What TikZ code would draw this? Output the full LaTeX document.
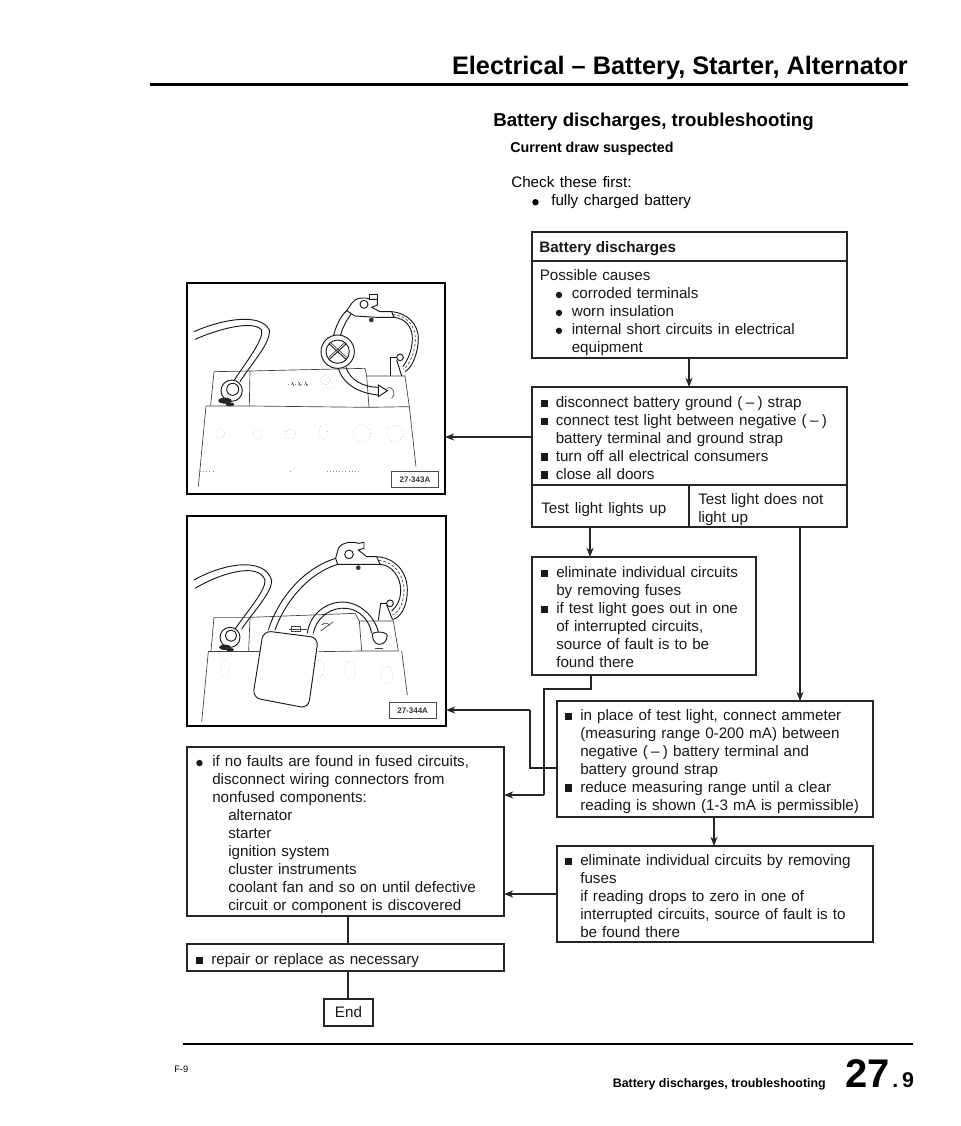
\documentclass[tikz,border=0pt]{standalone}
\usepackage{fontspec}
\setmainfont{Liberation Sans}
\usetikzlibrary{arrows.meta}
\newcommand{\sqb}{\rule[0.7pt]{5.4pt}{5.4pt}}
\newcommand{\rnd}{\raisebox{0.9pt}{\tikz[baseline=0pt]\fill (2.4pt,1.9pt) circle (2.4pt);}}
\newcommand{\sqi}[1]{\hangindent=11.25pt\hangafter=1\noindent\makebox[11.25pt][l]{\sqb}#1\par}
\newcommand{\rni}[2][12pt]{\leftskip=#1\hangindent=12pt\hangafter=1\noindent\makebox[12pt][l]{\rnd}#2\par}
\newcommand{\minusb}{(\hspace{2.5pt}–\hspace{2.5pt})}
\newcommand{\bodyfont}{\fontsize{11.4}{13.45}\selectfont\spaceskip=.37em}
\tikzset{
  x=0.75pt,y=-0.75pt,
  boxn/.style={draw=black!85,line width=0.8pt,anchor=north west,inner sep=0pt,outer sep=0pt},
  bodyt/.style={anchor=north west,inner sep=0pt,align=left,font=\bodyfont,text=black!90},
  arr/.style={line width=0.8pt,draw=black!85,-{Stealth[length=7pt,width=5.4pt]}},
  conn/.style={line width=0.8pt,draw=black!85},
  frameb/.style={draw=black,line width=1.5pt,anchor=north west,inner sep=0pt,outer sep=0pt},
  art/.style={line width=0.5pt,draw=black!75},
  artb/.style={line width=0.7pt,draw=black!90},
  faint/.style={line width=0.35pt,draw=black!45,dotted},
  tagn/.style={draw=black!70,line width=0.5pt,inner sep=0pt,anchor=north west,font=\fontsize{6}{7}\bfseries\selectfont,text=black!80},
  zoomed/.style={x=0.25pt,y=-0.25pt}
}
\begin{document}
\begin{tikzpicture}
\useasboundingbox (0,0) rectangle (960,1126);
\fill[white] (0,0) rectangle (960,1126);

% Header
\node[anchor=base east,inner sep=0pt,font=\fontsize{19}{21}\bfseries\selectfont] (hdr) at (908,75) {Electrical – Battery, Starter, Alternator};
\draw[line width=1.9pt] (150,84.5) -- (908,84.5);
\node[anchor=base west,inner sep=0pt,font=\fontsize{14}{16}\bfseries\selectfont] (ttl) at (493,127) {Battery discharges, troubleshooting};
\node[anchor=base west,inner sep=0pt,font=\fontsize{10.7}{12}\bfseries\selectfont] (sub) at (510,153) {Current draw suspected};
\node[anchor=base west,inner sep=0pt,font=\bodyfont] (chk) at (511,188) {Check these first:};
\node[anchor=base west,inner sep=0pt,font=\bodyfont] (chk2) at (532,206) {\makebox[14.25pt][l]{\rnd}fully charged battery};

% Column helper coordinates
\coordinate (xa) at (689,0);
\coordinate (xb) at (590,0);
\coordinate (xc) at (800,0);
\coordinate (xd) at (714,0);
\coordinate (xe) at (348,0);
\coordinate (ya) at (0,437);
\coordinate (yb) at (0,710);
\coordinate (yc) at (0,795);
\coordinate (yd) at (0,768);
\coordinate (ye) at (0,894);
\coordinate (j1) at (591,689);
\coordinate (j2) at (544,689);
\coordinate (j3) at (544,795);
\coordinate (j4) at (530,768);
\coordinate (j5) at (530,710);

% Box 1
\node[boxn,minimum width=236.25pt,minimum height=21.75pt] (b1h) at (532,232) {};
\node[boxn,minimum width=236.25pt,minimum height=72.75pt] (b1) at (532,261) {};
\node[bodyt,font=\fontsize{11.4}{13}\bfseries\selectfont] (b1ht) at (539,241) {Battery discharges};
\node[bodyt,text width=228pt] (b1t) at (539.5,269.5) {Possible causes\par
\rni{corroded terminals}
\rni{worn insulation}
\rni{internal short circuits in electrical\newline equipment}};

% Box 2
\node[boxn,minimum width=236.25pt,minimum height=73.5pt] (b2) at (532,387) {};
\node[bodyt,text width=228pt] (b2t) at (540.5,396.5) {\sqi{disconnect battery ground \minusb\ strap}
\sqi{connect test light between negative \minusb\newline battery terminal and ground strap}
\sqi{turn off all electrical consumers}
\sqi{close all doors}};
\node[boxn,minimum width=117.75pt,minimum height=31.5pt] (tu) at (532,485) {};
\node[boxn,minimum width=118.5pt,minimum height=31.5pt] (tn) at (689,485) {};
\node[bodyt] (tut) at (541,502.5) {Test light lights up};
\node[bodyt,text width=112pt] (tnt) at (698,493.5) {Test light does not\newline light up};

% Box 3
\node[boxn,minimum width=168pt,minimum height=88.5pt] (b3) at (532,557) {};
\node[bodyt,text width=160pt] (b3t) at (541,566.5) {\sqi{eliminate individual circuits\newline by removing fuses}
\sqi{if test light goes out in one\newline of interrupted circuits,\newline source of fault is to be\newline found there}};

% Box 4
\node[boxn,minimum width=237pt,minimum height=87pt] (b4) at (557,701) {};
\node[bodyt,text width=232pt] (b4t) at (565,709.5) {\sqi{in place of test light, connect ammeter\newline (measuring range 0-200 mA) between\newline negative \minusb\ battery terminal and\newline battery ground strap}
\sqi{reduce measuring range until a clear\newline reading is shown (1-3 mA is permissible)}};

% Box 5
\node[boxn,minimum width=237pt,minimum height=72pt] (b5) at (557,846) {};
\node[bodyt,text width=232pt] (b5t) at (565,854.5) {\sqi{eliminate individual circuits by removing\newline fuses\newline if reading drops to zero in one of\newline interrupted circuits, source of fault is to\newline be found there}};

% Box 6
\node[boxn,minimum width=237.75pt,minimum height=126.75pt] (b6) at (187,747) {};
\node[bodyt,text width=232pt] (b6t) at (196,755.5) {\rni[0pt]{if no faults are found in fused circuits,\newline disconnect wiring connectors from\newline nonfused components:\newline \hspace*{12pt}alternator\newline \hspace*{12pt}starter\newline \hspace*{12pt}ignition system\newline \hspace*{12pt}cluster instruments\newline \hspace*{12pt}coolant fan and so on until defective\newline \hspace*{12pt}circuit or component is discovered}};

% Box 7, End
\node[boxn,minimum width=237.75pt,minimum height=20.25pt] (b7) at (187,944) {};
\node[bodyt,text width=232pt] (b7t) at (196,953.5) {\sqi{repair or replace as necessary}};
\node[boxn,minimum width=36.75pt,minimum height=20.25pt] (endb) at (324,999) {};
\node[bodyt,anchor=center] (endt) at (endb.center) {End};

% Picture frames
\node[frameb,minimum width=193.5pt,minimum height=157.5pt] (p1) at (187,283.5) {};
\node[frameb,minimum width=194.25pt,minimum height=157.5pt] (p2) at (187,515.5) {};

% Connectors
\draw[arr] (b1.south -| xa) -- (b2.north -| xa);
\draw[arr] (tu.south -| xb) -- (b3.north -| xb);
\draw[arr] (tn.south -| xc) -- (b4.north -| xc);
\draw[arr] (b4.south -| xd) -- (b5.north -| xd);
\draw[arr] (b2.west |- ya) -- (p1.east |- ya);
\draw[conn] (b3.south -| j1) -- (j1) -- (j2) -- (j3);
\draw[arr] (j3) -- (b6.east |- j3);
\draw[conn] (b4.west |- j4) -- (j4) -- (j5);
\draw[arr] (j5) -- (p2.east |- j5);
\draw[arr] (b5.west |- ye) -- (b6.east |- ye);
\draw[conn] (b6.south -| xe) -- (b7.north -| xe);
\draw[conn] (b7.south -| xe) -- (endb.north -| xe);

% Illustration 1
\begin{scope}[shift={(170,270)},zoomed]
\draw[artb] (72,185) .. controls (150,150) and (270,125) .. (298,180) .. controls (302,220) and (245,280) .. (210,335);
\draw[artb] (75,208) .. controls (150,175) and (250,150) .. (275,180) .. controls (282,210) and (225,280) .. (190,335);
\draw[art] (132,305) -- (240,303) -- (585,295) -- (590,318) -- (705,318) -- (718,410);
\draw[art] (132,305) -- (122,405);
\draw[art] (240,303) -- (238,408);
\draw[art] (108,408) -- (238,408) -- (595,412) -- (718,410);
\draw[art] (590,318) -- (597,412);
\draw[art] (108,408) -- (85,650);
\draw[art] (718,410) -- (738,590);
% left clamp
\draw[artb,fill=white] (185,362) circle (32);
\draw[artb,fill=white] (188,358) circle (18);
\fill[black!85] (165,392) ellipse (20 and 9);
\fill[black!85] (180,403) ellipse (13 and 6);
% lamp and leads
\draw[artb] (490,200) .. controls (497,170) and (510,140) .. (530,122);
\draw[artb] (510,205) .. controls (515,175) and (530,150) .. (545,130);
\draw[artb] (505,295) .. controls (520,345) and (570,370) .. (625,375);
\draw[artb] (528,292) .. controls (540,330) and (580,352) .. (625,352);
\draw[artb] (625,345) -- (652,362) -- (625,380) -- cycle;
\draw[art] (650,355) .. controls (670,345) and (680,375) .. (665,385);
\draw[artb,fill=white] (503,245) ellipse (50 and 50);
\draw[artb] (503,245) ellipse (35 and 35);
\draw[artb] (478,222) -- (528,268);
\draw[artb] (478,268) -- (528,222);
\draw[art] (483,219) -- (530,262);
\draw[art] (476,262) -- (523,219);
% right clamp and strap
\draw[artb,fill=white] (530,122) -- (545,100) .. controls (555,82) and (585,80) .. (600,88) -- (622,88) -- (622,105) -- (605,112) -- (630,125) -- (665,125) -- (672,142) -- (620,142) -- (555,138) -- cycle;
\draw[artb,fill=white] (582,103) circle (12);
\draw[artb] (597,72) rectangle (622,88);
\fill[black!80] (604,150) circle (7);
\draw[artb] (665,125) .. controls (715,130) and (745,165) .. (745,205) .. controls (745,250) and (725,295) .. (705,305);
\draw[artb] (672,142) .. controls (705,145) and (727,170) .. (727,205) .. controls (727,245) and (710,275) .. (698,290);
\draw[art,dash pattern=on 2pt off 1.5pt] (668,133) .. controls (712,138) and (736,168) .. (736,205) .. controls (736,248) and (718,285) .. (700,298);
\draw[artb] (660,317) -- (660,262) -- (678,262);
\draw[artb] (695,318) -- (680,270);
\draw[artb,fill=white] (690,262) circle (10);
% emboss
\draw[faint] (355,342) -- (420,342);
\draw[art] (365,335) -- (372,348) (385,335) -- (392,348) (405,335) -- (412,348);
\draw[faint] (465,330) circle (14) (480,345) circle (12);
\draw[faint] (150,490) circle (14) (262,495) circle (14) (362,492) circle (16) (460,485) ellipse (12 and 24) (575,490) circle (26) (675,490) circle (24);
\draw[faint] (90,605) -- (130,605) (470,605) -- (565,605) (360,605) -- (368,605);
\draw[faint] (255,308) circle (6) (570,315) circle (6) (248,400) circle (6) (580,405) circle (6);
\node[tagn,minimum width=35.5pt,minimum height=12.5pt] (tag1) at (663,602) {27-343A};
\end{scope}

% Illustration 2
\begin{scope}[shift={(170,505)},zoomed]
\draw[artb] (72,225) .. controls (150,180) and (280,150) .. (305,225) .. controls (308,260) and (250,320) .. (215,372);
\draw[artb] (75,250) .. controls (150,205) and (265,170) .. (285,225) .. controls (288,255) and (235,315) .. (195,372);
\draw[art] (132,337) -- (240,337) -- (555,325) -- (568,348) -- (670,348) -- (685,438);
\draw[art] (132,337) -- (123,438);
\draw[art] (240,337) -- (236,438);
\draw[art] (115,440) -- (270,440);
\draw[art] (445,440) -- (575,438) -- (685,438);
\draw[art] (568,348) -- (575,438);
\draw[art] (115,440) -- (95,650);
\draw[art] (695,438) -- (712,570);
% left clamp
\draw[artb,fill=white] (180,397) circle (30);
\draw[artb,fill=white] (183,392) circle (17);
\fill[black!85] (165,427) ellipse (18 and 8);
\fill[black!85] (180,434) ellipse (12 and 5);
% leads
\draw[artb] (295,375) .. controls (325,280) and (400,190) .. (497,160);
\draw[artb] (315,375) .. controls (345,290) and (415,205) .. (503,178);
\draw[artb] (412,385) .. controls (420,320) and (480,285) .. (530,292) .. controls (580,300) and (615,340) .. (625,380);
\draw[artb] (430,385) .. controls (440,335) and (485,305) .. (530,310) .. controls (570,315) and (598,345) .. (605,385);
\draw[artb,fill=white] (607,390) .. controls (605,378) and (650,378) .. (652,392) .. controls (650,410) and (640,418) .. (628,418) .. controls (615,418) and (608,405) .. (607,390) -- cycle;
\draw[art] (615,430) -- (638,430);
% clamp and strap
\draw[artb,fill=white] (497,160) -- (505,130) .. controls (515,112) and (545,108) .. (565,115) -- (582,112) -- (582,130) -- (565,135) -- (590,155) -- (620,155) -- (630,178) -- (575,178) -- (503,178) -- cycle;
\draw[artb,fill=white] (537,148) circle (13);
\fill[black!80] (565,188) circle (7);
\draw[artb] (622,155) .. controls (680,160) and (712,205) .. (712,255) .. controls (712,300) and (695,335) .. (670,343);
\draw[artb] (630,178) .. controls (665,180) and (692,215) .. (692,255) .. controls (692,285) and (680,305) .. (665,318);
\draw[art,dash pattern=on 2pt off 1.5pt] (626,166) .. controls (672,170) and (702,210) .. (702,255) .. controls (702,292) and (688,320) .. (668,330);
\draw[artb] (625,346) -- (632,295) -- (650,295);
\draw[artb] (668,345) -- (650,300);
\draw[artb,fill=white] (660,295) circle (10);
% meter body
\draw[artb,fill=white,rounded corners=6pt] (280,377) -- (445,398) -- (415,610) -- (248,578) -- cycle;
% emboss
\draw[art] (358,372) -- (410,372);
\draw[art] (365,365) rectangle (390,378);
\draw[art] (452,378) -- (490,350) (455,360) .. controls (465,350) and (470,355) .. (480,360);
\draw[faint] (165,490) ellipse (12 and 28) (445,490) ellipse (18 and 26) (540,495) ellipse (18 and 26) (650,510) ellipse (18 and 26);
\node[tagn,minimum width=35.5pt,minimum height=12.5pt] (tag2) at (656,590) {27-344A};
\end{scope}

% Footer
\draw[line width=1.5pt] (183,1044) -- (913,1044);
\node[anchor=base west,inner sep=0pt,font=\fontsize{7}{8}\selectfont] (fl) at (174,1072) {F-9};
\node[anchor=base east,inner sep=0pt,font=\fontsize{9.3}{11}\bfseries\selectfont] (fr) at (826,1087) {Battery discharges, troubleshooting};
\node[anchor=base west,inner sep=0pt,font=\fontsize{30}{33}\bfseries\selectfont] (pg) at (845,1087) {27};
\node[anchor=base west,inner sep=0pt,font=\fontsize{16}{18}\bfseries\selectfont] (pg2) at (892,1087) {.\hspace{3pt}9};
\end{tikzpicture}
\end{document}
